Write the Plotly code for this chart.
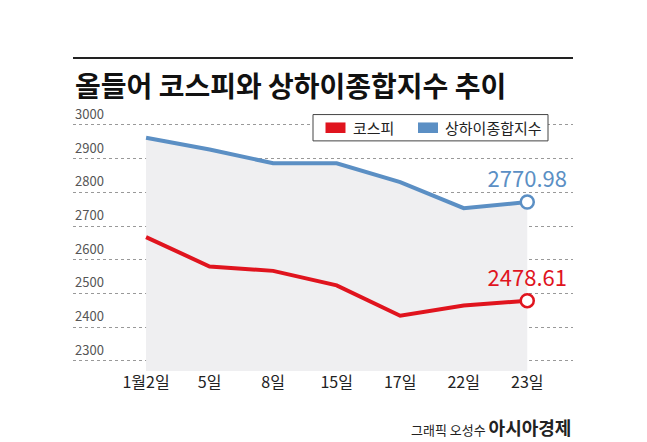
import plotly.graph_objects as go

dates = ["1월2일", "5일", "8일", "15일", "17일", "22일", "23일"]
shanghai = [2962, 2927, 2886, 2886, 2830, 2753, 2770.98]
kospi = [2667, 2580, 2567, 2524, 2434, 2464, 2478.61]
yticks = [2300, 2400, 2500, 2600, 2700, 2800, 2900, 3000]

blue = "#5b8fc4"
red = "#e0141e"
x = list(range(len(dates)))

fig = go.Figure()
fig.add_trace(go.Scatter(x=x, y=shanghai, mode="lines", line=dict(color=blue, width=4),
                         fill="tozeroy", fillcolor="#efeff1",
                         name="상하이종합지수", showlegend=False))
fig.add_trace(go.Scatter(x=x, y=kospi, mode="lines", line=dict(color=red, width=4),
                         name="코스피", showlegend=False))
for ys, c in [(shanghai, blue), (kospi, red)]:
    fig.add_trace(go.Scatter(x=[x[-1]], y=[ys[-1]], mode="markers+text",
                             marker=dict(size=13, color="white", line=dict(color=c, width=2.5)),
                             text=[f"{ys[-1]:.2f}"], textposition="top center",
                             textfont=dict(size=22, color=c, family="Noto Sans CJK KR"),
                             showlegend=False, cliponaxis=False))

ann = [dict(text=str(v), xref="paper", yref="y", x=0, y=v, xanchor="left", yanchor="bottom",
            showarrow=False, font=dict(size=13, color="#555")) for v in yticks]

fig.update_layout(
    width=647, height=442, margin=dict(l=65, r=82, t=100, b=79),
    paper_bgcolor="white", plot_bgcolor="white",
    font=dict(family="Noto Sans CJK KR", color="#222"),
    xaxis=dict(range=[-1.15, 6.72], tickvals=x, ticktext=dates, showgrid=False,
               zeroline=False, tickfont=dict(size=16, color="#222"), ticks=""),
    yaxis=dict(range=[2270, 3050], tickvals=yticks, showticklabels=False,
               showgrid=True, gridcolor="#999", griddash="dot", gridwidth=1, zeroline=False),
    shapes=[dict(type="line", xref="paper", yref="paper", x0=0, x1=1, y0=1.19, y1=1.19,
                 line=dict(color="#222", width=2)),
            dict(type="rect", xref="paper", yref="paper", x0=0.48, x1=0.95, y0=0.875, y1=0.975,
                 fillcolor="white", line=dict(color="#444", width=1)),
            dict(type="rect", xref="paper", yref="paper", x0=0.505, x1=0.545, y0=0.905, y1=0.945,
                 fillcolor=red, line=dict(width=0)),
            dict(type="rect", xref="paper", yref="paper", x0=0.69, x1=0.73, y0=0.905, y1=0.945,
                 fillcolor=blue, line=dict(width=0))],
    annotations=ann + [
        dict(text="<b>올들어 코스피와 상하이종합지수 추이</b>", xref="paper", yref="paper",
             x=0, y=1.17, xanchor="left", yanchor="top", showarrow=False,
             font=dict(size=28, color="#111")),
        dict(text="코스피", xref="paper", yref="paper", x=0.555, y=0.925, xanchor="left",
             yanchor="middle", showarrow=False, font=dict(size=15)),
        dict(text="상하이종합지수", xref="paper", yref="paper", x=0.74, y=0.925, xanchor="left",
             yanchor="middle", showarrow=False, font=dict(size=15)),
        dict(text="그래픽 오성수 <b><span style='font-size:18px'>아시아경제</span></b>",
             xref="paper", yref="paper", x=1.0, y=-0.27, xanchor="right", showarrow=False,
             font=dict(size=13, color="#222")),
    ],
)
fig.write_html("out.html")
